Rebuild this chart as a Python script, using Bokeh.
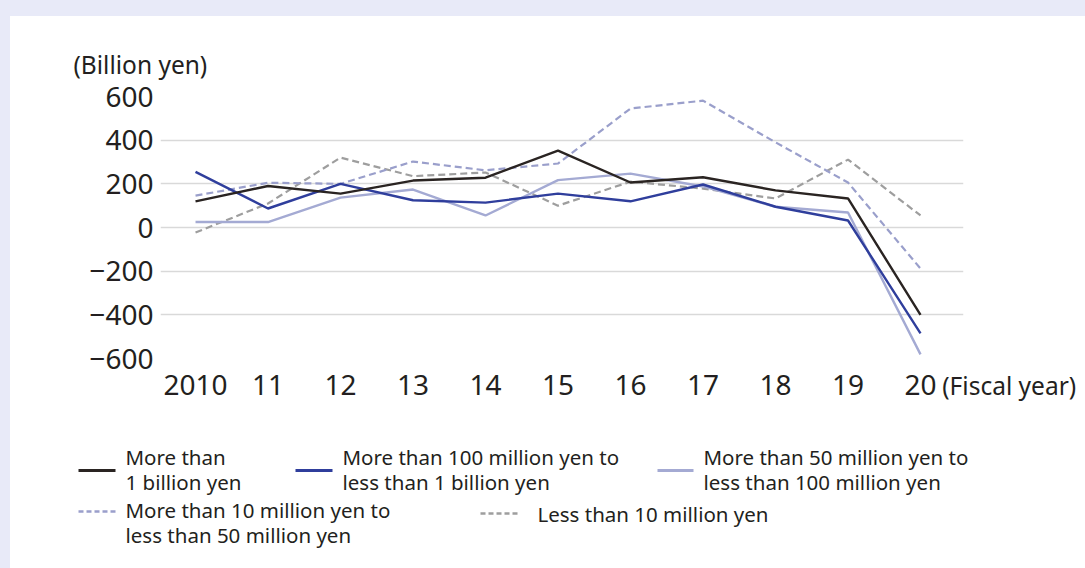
from bokeh.plotting import figure
from bokeh.models import Range1d, FixedTicker, Label
from bokeh.embed import file_html
from bokeh.resources import INLINE
from bokeh.core.properties import value

# ---------------- data ----------------
years = [2010, 2011, 2012, 2013, 2014, 2015, 2016, 2017, 2018, 2019, 2020]
x_tick_labels = ["2010", "11", "12", "13", "14", "15", "16", "17", "18", "19", "20"]
y_ticks = [-600, -400, -200, 0, 200, 400, 600]
y_tick_labels = ["\u2212600", "\u2212400", "\u2212200", "0", "200", "400", "600"]

over_1b = [120, 190, 155, 215, 228, 352, 206, 230, 170, 133, -400]
m100_to_1b = [255, 87, 200, 125, 114, 155, 120, 197, 95, 32, -485]
m50_to_100m = [25, 25, 137, 174, 55, 217, 247, 188, 95, 69, -581]
m10_to_50m = [146, 205, 200, 302, 262, 293, 545, 581, 390, 206, -188]
under_10m = [-23, 110, 320, 235, 252, 100, 210, 178, 133, 311, 55]

series_labels = [
    "More than\n1 billion yen",
    "More than 100 million yen to\nless than 1 billion yen",
    "More than 50 million yen to\nless than 100 million yen",
    "More than 10 million yen to\nless than 50 million yen",
    "Less than 10 million yen",
]
y_axis_title = "(Billion yen)"
x_axis_title = "(Fiscal year)"

# ---------------- styles ----------------
FONT = "Noto Sans"
TEXT = "#231F20"
colors = ["#2A2422", "#2F3E9C", "#A4AAD3", "#9A9FCB", "#9E9E9E"]
dashes = ["solid", "solid", "solid", "7 4", "7 4"]
widths = [2.4, 2.4, 2.4, 2.2, 2.2]
series = [over_1b, m100_to_1b, m50_to_100m, m10_to_50m, under_10m]

p = figure(width=1075, height=414,
           x_range=Range1d(2009.517, 2020.593), y_range=Range1d(-600, 600),
           output_backend="svg", toolbar_location=None,
           min_border_left=150, min_border_right=122,
           min_border_top=80, min_border_bottom=72)
p.outline_line_color = None
p.background_fill_color = None
p.border_fill_color = "white"

p.xaxis.ticker = FixedTicker(ticks=years)
p.xaxis.major_label_overrides = {y: l for y, l in zip(years, x_tick_labels)}
p.yaxis.ticker = FixedTicker(ticks=y_ticks)
p.yaxis.major_label_overrides = {t: l for t, l in zip(y_ticks, y_tick_labels)}

for ax in (p.xaxis, p.yaxis):
    ax.axis_line_color = None
    ax.major_tick_line_color = None
    ax.minor_tick_line_color = None
    ax.major_tick_out = 0
    ax.major_tick_in = 0
    ax.major_label_text_font = FONT
    ax.major_label_text_font_size = "28px"
    ax.major_label_text_color = TEXT
p.xaxis.major_label_standoff = 16
p.yaxis.major_label_standoff = 7

p.xgrid.grid_line_color = None
p.ygrid.ticker = FixedTicker(ticks=y_ticks)
p.ygrid.grid_line_color = "#D9D9D9"
p.ygrid.grid_line_width = 1.6

# draw in reverse so the solid black is on top
for i in [4, 3, 2, 1, 0]:
    p.line(years, series[i], line_color=colors[i], line_width=widths[i],
           line_dash=dashes[i])

# axis titles as labels in a side panel (not clipped to the frame)
p.add_layout(Label(x=2008.317, y=746, text=y_axis_title, text_font=FONT,
                   text_font_size="24.5px", text_color=TEXT,
                   text_baseline="middle", text_align="left"), "above")
p.add_layout(Label(x=2020.3, y=-724, text=x_axis_title, text_font=FONT,
                   text_font_size="24.5px", text_color=TEXT,
                   text_baseline="middle", text_align="left"), "above")

# ---------------- legend (separate root) ----------------
leg = figure(width=1075, height=138, x_range=Range1d(0, 1075),
             y_range=Range1d(138, 0), output_backend="svg",
             toolbar_location=None, min_border=0,
             min_border_left=0, min_border_right=0,
             min_border_top=0, min_border_bottom=0,
             x_axis_location=None, y_axis_location=None)
leg.grid.visible = False
leg.outline_line_color = None
leg.background_fill_color = None
leg.border_fill_color = "white"

key_x0 = [68, 285, 647, 68, 470]
key_x1 = [105, 322, 683, 107, 510]
key_y = [40, 40, 40, 81, 83]
text_x = [115, 332, 693, 115, 527]
text_y = [39, 39, 39, 92, 83]

for i in range(5):
    leg.line([key_x0[i], key_x1[i]], [key_y[i], key_y[i]], line_color=colors[i],
             line_width=widths[i] + 0.4,
             line_dash=("5 3" if dashes[i] != "solid" else "solid"))

leg.text(x=text_x, y=text_y, text=series_labels, text_font=value(FONT),
         text_font_size="20.5px", text_color=TEXT, text_baseline="middle",
         text_align="left", text_line_height=0.9)

html = file_html([p, leg], INLINE, title="Chart")
html = html.replace("</head>",
                    "<style>html,body{margin:0;background:#ffffff;overflow:hidden;}"
                    "body{border-top:16px solid #E8EAF8;border-left:10px solid #E8EAF8;"
                    "display:flex;flex-direction:column;align-items:flex-start;}"
                    "</style></head>", 1)
open("out.html", "w").write(html)
